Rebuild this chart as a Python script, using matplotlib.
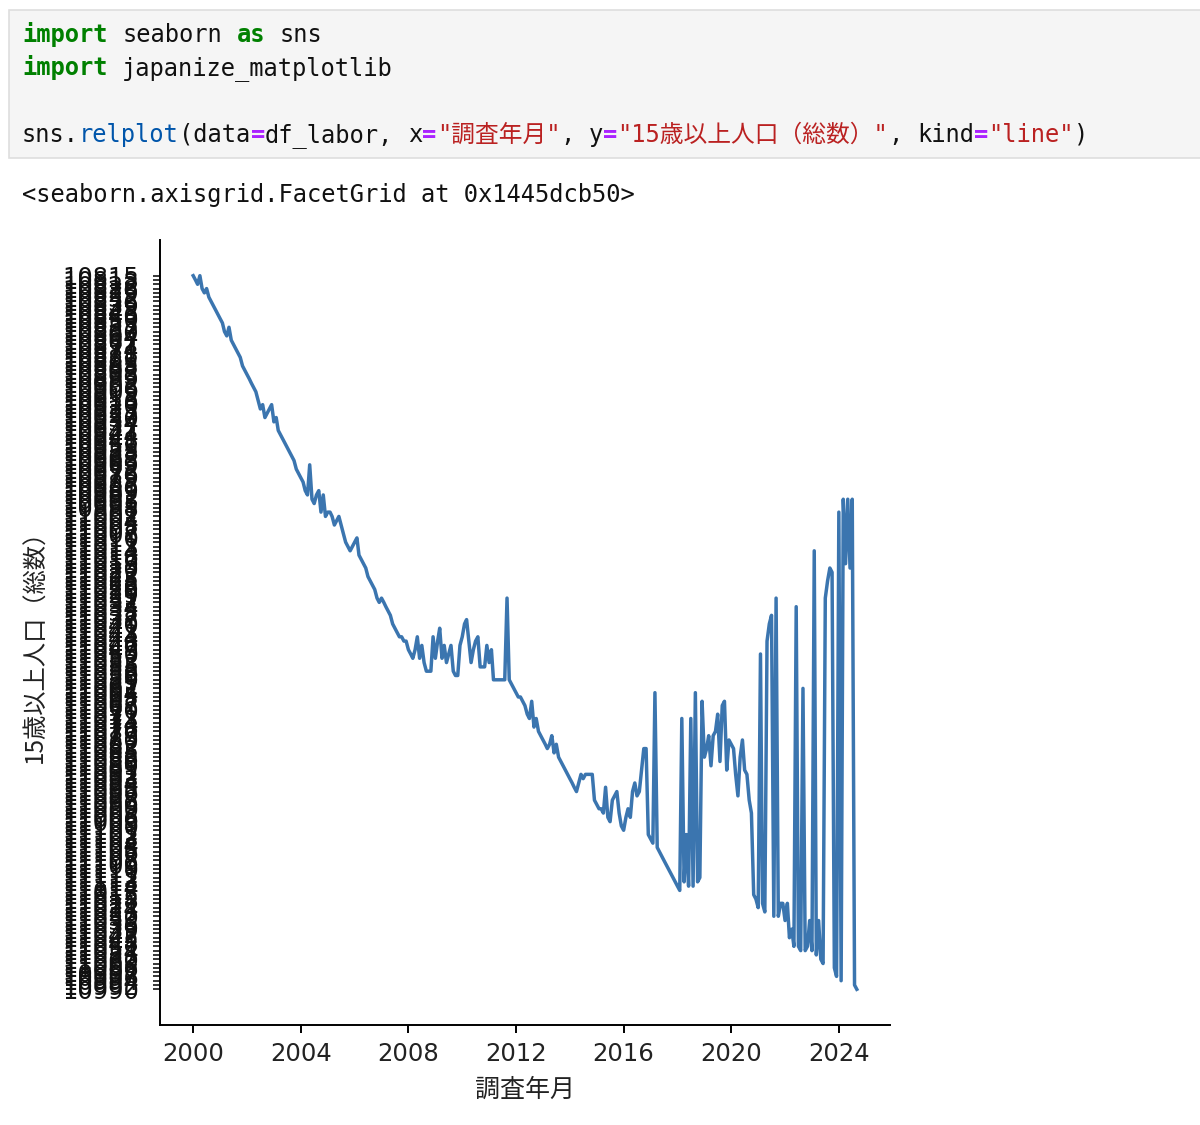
import re
import pandas as pd
import matplotlib
matplotlib.use("Agg")
import matplotlib.pyplot as plt
import matplotlib.dates as mdates
from matplotlib.patches import Rectangle

W, H = 1200, 1125

# 調査年月: 2000-01 .. 2024-09 (monthly)
months = pd.date_range("2000-01-01", periods=297, freq="MS")

# position of each month's value among the y categories (order of first appearance)
pop_idx = [
    0, 1, 2, 0, 3, 4, 3, 5, 6, 7, 8, 9,                              # 2000
    10, 11, 13, 14, 12, 15, 16, 17, 18, 19, 21, 22,                  # 2001
    23, 24, 25, 26, 27, 29, 31, 30, 33, 32, 31, 30,                  # 2002
    34, 33, 36, 37, 38, 39, 40, 41, 42, 43, 45, 46,                  # 2003
    47, 48, 50, 51, 44, 52, 53, 51, 50, 55, 51, 56,                  # 2004
    55, 55, 56, 58, 57, 56, 58, 60, 62, 63, 64, 63,                  # 2005
    62, 61, 65, 66, 67, 68, 70, 71, 72, 73, 75, 76,                  # 2006
    75, 76, 77, 78, 79, 81, 82, 83, 84, 84, 85, 85,                  # 2007
    87, 88, 89, 87, 84, 89, 86, 90, 92, 92, 92, 84,                  # 2008
    89, 85, 82, 89, 86, 90, 88, 86, 92, 93, 93, 86,                  # 2009
    84, 81, 80, 85, 90, 87, 85, 84, 91, 91, 91, 86,                  # 2010
    90, 87, 94, 94, 94, 94, 94, 94, 75, 94, 95, 96,                  # 2011
    97, 98, 98, 99, 100, 102, 103, 99, 105, 103, 106, 107,           # 2012
    108, 109, 110, 109, 107, 111, 109, 112, 113, 114, 115, 116,      # 2013
    117, 118, 119, 120, 118, 116, 117, 116, 116, 116, 116, 122,      # 2014
    123, 124, 124, 125, 119, 126, 127, 122, 121, 120, 125, 128,      # 2015
    129, 126, 124, 126, 120, 118, 121, 120, 115, 110, 110, 130,      # 2016
    131, 132, 97, 133, 134, 135, 136, 137, 138, 139, 140, 141,       # 2017
    142, 143, 103, 141, 130, 142, 103, 142, 97, 141, 140, 99,        # 2018
    112, 110, 107, 114, 107, 106, 102, 113, 100, 99, 115, 108,       # 2019
    109, 110, 116, 121, 112, 108, 115, 116, 122, 125, 144, 145,      # 2020
    147, 88, 146, 148, 85, 81, 79, 149, 75, 149, 146, 146,           # 2021
    150, 146, 154, 152, 156, 77, 156, 157, 96, 157, 156, 150,        # 2022
    157, 64, 158, 150, 159, 160, 75, 71, 68, 69, 161, 163,           # 2023
    55, 164, 52, 67, 52, 68, 52, 165, 166,                           # 2024
]

# 15歳以上人口（総数） category labels, in order of first appearance
pop_labels = [
    10815, 10818, 10822, 10826, 10829, 10832, 10836, 10839, 10843, 10846,
    10850, 10853, 10857, 10860, 10864, 10867, 10871, 10874, 10878, 10881,
    10885, 10888, 10892, 10895, 10899, 10902, 10906, 10909, 10913, 10916,
    10920, 10923, 10927, 10930, 10934, 10937, 10941, 10944, 10948, 10951,
    10955, 10958, 10962, 10965, 10969, 10972, 10976, 10979, 10983, 10986,
    10989, 10991, 10993, 10995, 10998,
    11001, 11002, 11004, 11005, 11007, 11008, 11010, 11011, 11013, 11014,
    11016, 11017, 11019, 11020, 11022, 11023, 11025, 11026, 11028, 11029,
    11031, 11032, 11034, 11035, 11037, 11038, 11040, 11041, 11043, 11044,
    11046, 11047, 11049, 11050, 11052, 11053, 11055, 11056, 11058, 11059,
    11061, 11062, 11064, 11065, 11067, 11068, 11070, 11071, 11073, 11074,
    11076, 11077, 11079, 11080, 11082, 11083, 11085, 11086, 11088, 11089,
    11091, 11092, 11093, 11094, 11095, 11096, 11097, 11098, 11099, 11000,
    11003, 11006, 11009,
    11100, 11101, 11102, 11103, 11104, 11105, 11106, 11107, 11108, 11109,
    11110, 11111, 11112, 11113, 11114,
    11012, 11015, 11018, 11021, 11024, 11027, 11030, 11033, 11036, 11039,
    11042, 11045, 11048, 11051, 11054, 11057, 11060, 11063, 11066,
    10997, 10996, 10994, 10992, 10990,
]

# notebook cell text
code_lines = [
    [("import", "kw"), (" seaborn ", "plain"), ("as", "kw"), (" sns", "plain")],
    [("import", "kw"), (" japanize_matplotlib", "plain")],
    [],
    [("sns.", "plain"), ("relplot", "fn"), ("(data", "plain"), ("=", "op"),
     ("df_labor, x", "plain"), ("=", "op"), ('"調査年月"', "str"), (", y", "plain"),
     ("=", "op"), ('"15歳以上人口（総数）"', "str"), (", kind", "plain"), ("=", "op"),
     ('"line"', "str"), (")", "plain")],
]
out_text = "<seaborn.axisgrid.FacetGrid at 0x1445dcb50>"

styles = {
    "kw": ("#008000", "bold"),
    "fn": ("#0055aa", "normal"),
    "op": ("#aa22ff", "bold"),
    "str": ("#ba2121", "normal"),
    "plain": ("#111111", "normal"),
}

mono = ["DejaVu Sans Mono", "Noto Sans CJK JP"]
cw = 14.3                      # px per ascii column
fs_code = cw / 0.60205 * 0.72  # pt at 100 dpi
wide = fs_code / 0.72          # px per full-width char


def draw_code(tokens, baseline, x0=22):
    x = x0
    for text, st in tokens:
        color, weight = styles[st]
        for part in re.split(r"( +)", text):
            if not part:
                continue
            if part.startswith(" "):
                x += len(part) * cw
                continue
            fig.text(x / W, 1 - baseline / H, part, family=mono, fontsize=fs_code,
                     color=color, weight=weight, va="baseline", ha="left")
            x += sum(wide if ord(c) > 0x2E80 else cw for c in part)


fig = plt.figure(figsize=(12, 11.25), dpi=100)

# code cell background
fig.patches.append(Rectangle((9 / W, 1 - 158 / H), 1.0, 148 / H, transform=fig.transFigure,
                             facecolor="#f5f5f5", edgecolor="#dedede", linewidth=1.2))
for i, line in enumerate(code_lines):
    draw_code(line, 42 + i * 33.3)
fig.text(22 / W, 1 - 202 / H, out_text, family=mono, fontsize=fs_code, color="#111111",
         va="baseline", ha="left")

# chart
ax = fig.add_axes([160 / W, 100 / H, 730 / W, 785 / H])
ax.plot(months, pop_idx, color="#3b75af", linewidth=2.5)

ax.set_yticks(range(len(pop_labels)))
ax.set_yticklabels([str(v) for v in pop_labels])
ax.invert_yaxis()

ax.xaxis.set_major_locator(mdates.YearLocator(4))
ax.xaxis.set_major_formatter(mdates.DateFormatter("%Y"))

for s in ["top", "right"]:
    ax.spines[s].set_visible(False)
for s in ["left", "bottom"]:
    ax.spines[s].set_linewidth(1.4)

ax.tick_params(axis="y", length=5, width=1.1, pad=10, labelsize=17.3, labelcolor="#111111")
ax.tick_params(axis="x", length=6, width=1.4, pad=6, labelsize=17.5, labelcolor="#222222")
for lab in ax.get_xticklabels() + ax.get_yticklabels():
    lab.set_family("DejaVu Sans")

ax.set_xlabel("調査年月", family=["Noto Sans CJK JP", "DejaVu Sans"], fontsize=18,
              color="#222222")
ax.set_ylabel("15歳以上人口（総数）", family=["Noto Sans CJK JP", "DejaVu Sans"], fontsize=17.5,
              color="#222222")
ax.xaxis.set_label_coords(0.5, -0.066)
ax.yaxis.set_label_coords(-0.152, 0.49)

fig.savefig("out.png", dpi=100)
